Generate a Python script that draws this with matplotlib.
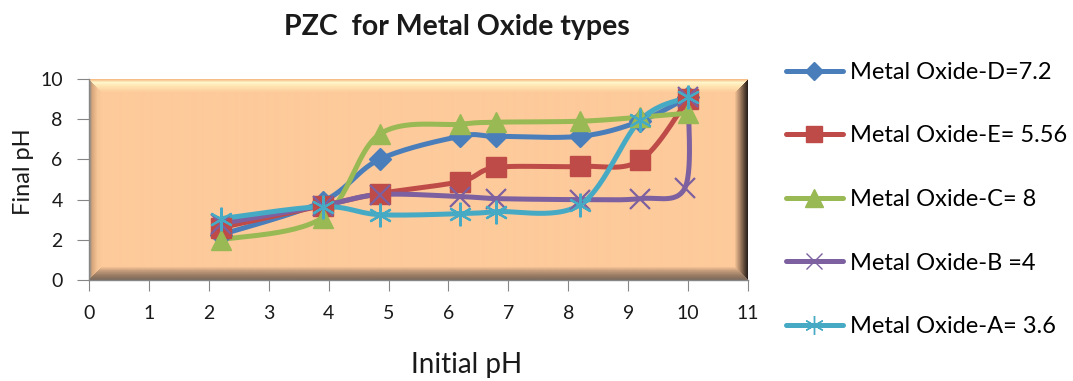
import numpy as np
import matplotlib
matplotlib.use("Agg")
import matplotlib.pyplot as plt
from matplotlib.lines import Line2D

plt.rcParams["font.family"] = ["Lato", "DejaVu Sans"]

# Initial pH / final pH readings per oxide
initial_ph = [2.2, 3.9, 4.85, 6.2, 6.8, 8.2, 9.2, 10.0]
initial_ph_b = [2.2, 3.9, 4.85, 6.2, 6.8, 8.2, 9.2, 9.95, 10.0]

final_d = [2.25, 3.9, 6.0, 7.15, 7.15, 7.15, 7.9, 9.1]
final_e = [2.6, 3.7, 4.3, 4.9, 5.6, 5.65, 5.95, 9.0]
final_c = [2.0, 3.1, 7.25, 7.75, 7.85, 7.9, 8.1, 8.3]
final_b = [2.8, 3.7, 4.25, 4.15, 4.05, 4.0, 4.05, 4.6, 9.1]
final_a = [3.05, 3.65, 3.25, 3.3, 3.4, 3.75, 7.95, 9.1]

labels = ["Metal Oxide-D=7.2", "Metal Oxide-E= 5.56", "Metal Oxide-C= 8",
          "Metal Oxide-B =4", "Metal Oxide-A= 3.6"]
colors = ["#4a7ebb", "#be4b48", "#98b954", "#7d60a0", "#46aac5"]


def smooth(xs, ys, sx=60.0, sy=20.0, n=30):
    # Catmull-Rom through the points, done in screen-like units
    p = np.column_stack([np.asarray(xs) * sx, np.asarray(ys) * sy])
    pts = np.vstack([p[0], p, p[-1]])
    out = []
    for i in range(1, len(pts) - 2):
        p0, p1, p2, p3 = pts[i - 1], pts[i], pts[i + 1], pts[i + 2]
        c1 = p1 + (p2 - p0) / 6.0
        c2 = p2 - (p3 - p1) / 6.0
        t = np.linspace(0, 1, n)[:, None]
        seg = ((1 - t) ** 3) * p1 + 3 * ((1 - t) ** 2) * t * c1 + 3 * (1 - t) * t ** 2 * c2 + t ** 3 * p2
        out.append(seg)
    out = np.vstack(out)
    return out[:, 0] / sx, out[:, 1] / sy


def bevel_image(w=660, h=201, b=13):
    base = np.array([253, 202, 155]) / 255.0
    yy, xx = np.mgrid[0:h, 0:w]
    dt, db, dl, dr = yy, h - 1 - yy, xx, w - 1 - xx
    img = np.tile(base, (h, w, 1))
    d = np.stack([dt, db, dl, dr])
    side = np.argmin(d, axis=0)
    dist = np.min(d, axis=0).astype(float)
    ramps = {
        0: [(0, "#f7bd86"), (3, "#fff6cc"), (7, "#ffe4b0"), (13, "#fdca9b")],
        1: [(0, "#7d6a5c"), (4, "#9a7c64"), (9, "#c79f7c"), (13, "#fdca9b")],
        2: [(0, "#8f8a86"), (3, "#d8a77c"), (8, "#f6c597"), (13, "#fdca9b")],
        3: [(0, "#2a211c"), (3, "#5a4636"), (8, "#b08a6b"), (13, "#fdca9b")],
    }
    for s, stops in ramps.items():
        mask = (side == s) & (dist < b)
        pos = [q[0] for q in stops]
        cols = np.array([matplotlib.colors.to_rgb(q[1]) for q in stops])
        for k in range(3):
            img[..., k][mask] = np.interp(dist[mask], pos, cols[:, k])
    return img


fig = plt.figure(figsize=(10.73, 3.81), dpi=100)
ax = fig.add_axes([89 / 1073, 101 / 381, 659 / 1073, 201 / 381])

ax.imshow(bevel_image(), extent=(0, 11, 0, 10), aspect="auto",
          interpolation="bilinear", zorder=0)

series = [
    (initial_ph, final_d, "D", 11, 1.0),
    (initial_ph, final_e, "s", 14, 1.0),
    (initial_ph, final_c, "^", 15, 1.0),
    (initial_ph_b, final_b, "x", 15, 1.6),
    (initial_ph, final_a, (6, 2, 0), 17, 1.6),
]

handles = []
for (xs, ys, mk, ms, mew), c, lab in zip(series, colors, labels):
    sx, sy = smooth(xs, ys)
    ax.plot(sx, sy, color=c, lw=3.6, solid_capstyle="round", zorder=3)
    ax.plot(xs, ys, ls="none", marker=mk, ms=ms, color=c, mec=c, mew=mew, zorder=4)
    handles.append(Line2D([], [], color=c, lw=3.6, marker=mk,
                          ms=ms * 0.8 if mk in ("x", (6, 2, 0)) else ms * 0.85,
                          mew=1.0, mec=c, solid_capstyle="round"))

ax.set_xlim(0, 11)
ax.set_ylim(0, 10)
ax.set_xticks(range(0, 12))
ax.set_yticks(range(0, 11, 2))

for s in ["top", "right"]:
    ax.spines[s].set_visible(False)
for s in ["left", "bottom"]:
    ax.spines[s].set_color("#868686")
    ax.spines[s].set_linewidth(1.0)
ax.tick_params(axis="both", direction="out", color="#868686", labelsize=14,
               labelcolor="#1a1a1a")
ax.tick_params(axis="x", length=8, pad=10)
ax.tick_params(axis="y", length=9, pad=10)

fig.text(457 / 1073, 1 - 27 / 381, "PZC  for Metal Oxide types", ha="center",
         va="center", fontsize=20.5, fontweight="bold", color="#1a1a1a")
fig.text(467 / 1073, 1 - 365 / 381, "Initial pH", ha="center", va="center",
         fontsize=20, color="#1a1a1a")
fig.text(24 / 1073, 1 - 172 / 381, "Final pH", ha="center", va="center",
         rotation=90, fontsize=17, color="#1a1a1a")

fig.legend(handles=handles, labels=labels, loc="upper left",
           bbox_to_anchor=(786 / 1073, 1 - 62 / 381), frameon=False,
           fontsize=17, handlelength=2.4, handletextpad=0.3,
           labelspacing=1.8, borderaxespad=0, borderpad=0)

fig.savefig("out.png", dpi=100, facecolor="white")
